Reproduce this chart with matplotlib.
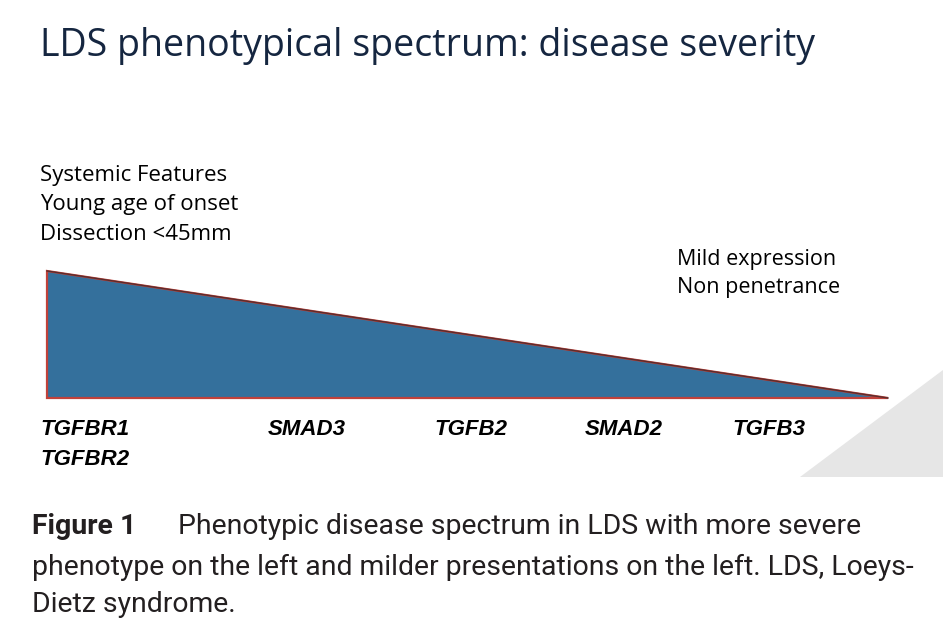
import matplotlib
matplotlib.use("Agg")
import matplotlib.pyplot as plt
from matplotlib.patches import Polygon

# spectrum position (0 = most severe, 1 = mildest) and severity height
spectrum = [0.0, 1.0]
severity = [1.0, 0.0]

genes = ["TGFBR1\nTGFBR2", "SMAD3", "TGFB2", "SMAD2", "TGFB3"]
gene_pos = [-0.008, 0.309, 0.504, 0.686, 0.858]

severe_notes = ["Systemic Features", "Young age of onset", "Dissection <45mm"]
mild_notes = ["Mild expression", "Non penetrance"]

title = "LDS phenotypical spectrum: disease severity"
caption_head = "Figure 1"
caption_lines = ["Phenotypic disease spectrum in LDS with more severe",
                 "phenotype on the left and milder presentations on the left. LDS, Loeys-",
                 "Dietz syndrome."]

W, H = 950, 632
fig = plt.figure(figsize=(W / 100, H / 100), dpi=100)
fig.patch.set_facecolor("white")

# background decoration (grey wedge bottom right), in pixel units
bg = fig.add_axes([0, 0, 1, 1])
bg.set_xlim(0, W)
bg.set_ylim(H, 0)
bg.axis("off")
bg.add_patch(Polygon([[800, 477], [943, 370], [943, 477]], closed=True,
                     facecolor="#e6e6e6", edgecolor="none"))

# triangle axes
ax = fig.add_axes([47 / W, 1 - 398 / H, 841 / W, 127 / H])
ax.set_xlim(0, 1)
ax.set_ylim(0, 1)
ax.axis("off")
ax.fill([spectrum[0], spectrum[0], spectrum[1]], [0, severity[0], severity[1]],
        color="#34709c", edgecolor="#c0413a", linewidth=1.6, clip_on=False)
ax.plot(spectrum, severity, color="#5a2d2d", linewidth=1.0, clip_on=False)

for g, p in zip(genes, gene_pos):
    ha = "left" if p < 0 else "center"
    ax.text(p, -0.165, g, ha=ha, va="top", fontsize=16, fontweight="bold",
            fontstyle="italic", family="Liberation Sans", color="black",
            linespacing=1.55, clip_on=False)

fig.text(40 / W, 1 - 46 / H, title, fontsize=27, family="Open Sans",
         color="#152640", ha="left", va="center")

for i, t in enumerate(severe_notes):
    fig.text(40 / W, 1 - (176 + 29 * i) / H, t, fontsize=16,
             family="Open Sans", color="black", ha="left", va="center")
for i, t in enumerate(mild_notes):
    fig.text(677 / W, 1 - (259 + 29 * i) / H, t, fontsize=15.5,
             family="Open Sans", color="black", ha="left", va="center")

cap_kw = dict(fontsize=20.4, family="Roboto", color="#231f20", ha="left",
              va="center")
fig.text(32 / W, 1 - 527 / H, caption_head, fontweight="bold", **cap_kw)
fig.text(178 / W, 1 - 527 / H, caption_lines[0], **cap_kw)
for i, t in enumerate(caption_lines[1:]):
    fig.text(32 / W, 1 - (567 + 38 * i) / H, t, **cap_kw)

fig.savefig("out.png", dpi=100)
